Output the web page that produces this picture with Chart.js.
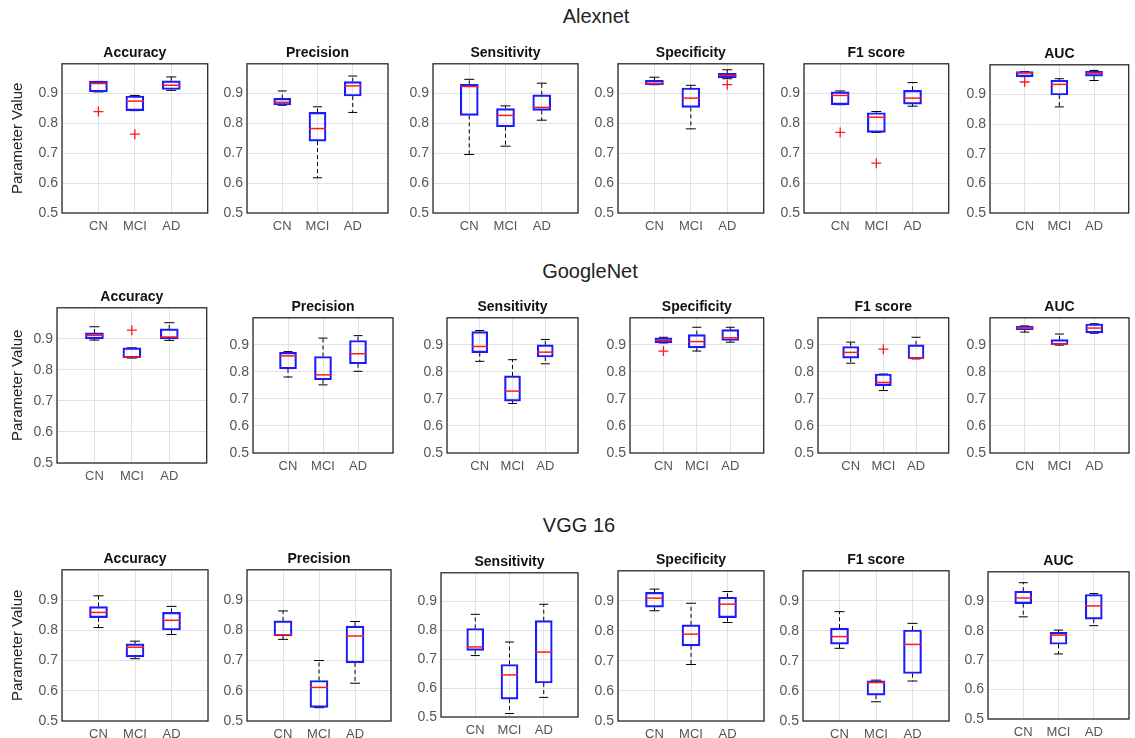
<!DOCTYPE html>
<html>
<head>
<meta charset="utf-8">
<script src="https://cdn.jsdelivr.net/npm/chart.js@4.4.1/dist/chart.umd.min.js"></script>
<style>
  html, body { margin: 0; padding: 0; background: #fff; overflow: hidden; }
  body { width: 1135px; height: 738px; position: relative; font-family: "Liberation Sans", Arial, sans-serif; }
  .net { position: absolute; font-size: 20px; color: #222; transform: translate(-50%, -50%); white-space: nowrap; }
  canvas { position: absolute; }
</style>
</head>
<body>
<div class="net" style="left:596px; top:16px">Alexnet</div>
<div class="net" style="left:590px; top:271px">GoogleNet</div>
<div class="net" style="left:579px; top:525px">VGG 16</div>
<script>
// categories
const groups = ['CN', 'MCI', 'AD'];
const metrics = ['Accuracy', 'Precision', 'Sensitivity', 'Specificity', 'F1 score', 'AUC'];
const networks = ['Alexnet', 'GoogleNet', 'VGG 16'];
const yTicks = [0.5, 0.6, 0.7, 0.8, 0.9];

// each metric: [CN, MCI, AD], each as [lower whisker, Q1, median, Q3, upper whisker]
const alexnetBoxes = [
    [[0.906, 0.906, 0.934, 0.941, 0.941], [0.843, 0.843, 0.875, 0.892, 0.894], [0.911, 0.914, 0.928, 0.943, 0.956]],
    [[0.861, 0.862, 0.871, 0.884, 0.909], [0.618, 0.741, 0.783, 0.837, 0.856], [0.837, 0.892, 0.926, 0.940, 0.959]],
    [[0.696, 0.827, 0.924, 0.931, 0.948], [0.724, 0.789, 0.827, 0.850, 0.859], [0.811, 0.844, 0.854, 0.896, 0.935]],
    [[0.930, 0.930, 0.934, 0.945, 0.955], [0.782, 0.854, 0.885, 0.919, 0.928], [0.950, 0.953, 0.961, 0.968, 0.980]],
    [[0.863, 0.863, 0.894, 0.906, 0.909], [0.770, 0.770, 0.821, 0.836, 0.840], [0.858, 0.865, 0.885, 0.911, 0.937]],
    [[0.960, 0.960, 0.973, 0.977, 0.977], [0.858, 0.898, 0.934, 0.948, 0.953], [0.947, 0.962, 0.972, 0.978, 0.981]]
];
const googlenetBoxes = [
    [[0.896, 0.900, 0.911, 0.919, 0.939], [0.838, 0.839, 0.841, 0.871, 0.871], [0.895, 0.900, 0.906, 0.932, 0.952]],
    [[0.781, 0.811, 0.859, 0.872, 0.875], [0.752, 0.771, 0.789, 0.857, 0.925], [0.802, 0.830, 0.867, 0.916, 0.934]],
    [[0.839, 0.871, 0.894, 0.949, 0.953], [0.683, 0.692, 0.729, 0.785, 0.845], [0.830, 0.855, 0.873, 0.900, 0.920]],
    [[0.907, 0.907, 0.916, 0.926, 0.928], [0.877, 0.889, 0.912, 0.938, 0.965], [0.910, 0.916, 0.926, 0.956, 0.965]],
    [[0.832, 0.851, 0.872, 0.894, 0.910], [0.731, 0.749, 0.761, 0.792, 0.792], [0.848, 0.848, 0.851, 0.900, 0.928]],
    [[0.947, 0.956, 0.963, 0.968, 0.970], [0.899, 0.900, 0.903, 0.919, 0.940], [0.943, 0.944, 0.962, 0.977, 0.978]]
];
const vgg16Boxes = [
    [[0.809, 0.842, 0.859, 0.878, 0.914], [0.706, 0.712, 0.744, 0.755, 0.764], [0.786, 0.801, 0.833, 0.859, 0.879]],
    [[0.770, 0.781, 0.785, 0.831, 0.864], [0.544, 0.545, 0.611, 0.634, 0.700], [0.625, 0.692, 0.781, 0.814, 0.829]],
    [[0.713, 0.731, 0.743, 0.807, 0.856], [0.512, 0.562, 0.646, 0.682, 0.760], [0.568, 0.618, 0.725, 0.834, 0.891]],
    [[0.867, 0.879, 0.909, 0.928, 0.939], [0.688, 0.750, 0.789, 0.820, 0.892], [0.828, 0.844, 0.889, 0.912, 0.931]],
    [[0.742, 0.756, 0.781, 0.809, 0.864], [0.564, 0.586, 0.628, 0.634, 0.636], [0.633, 0.658, 0.755, 0.803, 0.825]],
    [[0.847, 0.892, 0.911, 0.934, 0.963], [0.721, 0.754, 0.785, 0.794, 0.802], [0.817, 0.839, 0.884, 0.923, 0.926]]
];

// outliers per metric: [group, value]
const alexnetOutliers = [[['CN', 0.840], ['MCI', 0.764]], [], [], [['AD', 0.930]], [['CN', 0.770], ['MCI', 0.667]], [['CN', 0.942]]];
const googlenetOutliers = [[['MCI', 0.928]], [], [], [['CN', 0.877]], [['MCI', 0.884]], []];
const vgg16Outliers = [[], [], [], [], [], []];

const allBoxes = [alexnetBoxes, googlenetBoxes, vgg16Boxes];
const allOutliers = [alexnetOutliers, googlenetOutliers, vgg16Outliers];

// plot area frames on the page: [left, right, top, bottom]
const frames = [
    [[62, 212, 64, 213], [247, 392, 64, 213], [433, 582, 64, 213], [618, 768, 64, 213], [804, 953, 64, 213], [990, 1133, 65, 213]],
    [[57, 211, 308, 463], [253, 397, 318, 453], [447, 582, 318, 453], [630, 768, 318, 453], [818, 953, 318, 453], [990, 1133, 318, 453]],
    [[62, 212, 570, 721], [247, 395, 570, 721], [441, 582, 573, 717], [618, 768, 571, 721], [803, 953, 571, 721], [988, 1133, 572, 719]]
];

const TITLE_H = 14 * 1.2 + 2;
const XAXIS_H = 26;
const YAXIS_W = 40;

// whiskers, caps, medians and frame drawn through the chart scales
const boxWhiskers = {
    id: 'boxWhiskers',
    beforeDatasetsDraw(chart, args, opts) {
        const ctx = chart.ctx, x = chart.scales.x, y = chart.scales.y;
        ctx.save();
        ctx.strokeStyle = '#000';
        ctx.lineWidth = 1;
        opts.stats.forEach((s, i) => {
            const px = x.getPixelForValue(i + 1);
            ctx.setLineDash([4, 3]);
            ctx.beginPath();
            ctx.moveTo(px, y.getPixelForValue(s[3]));
            ctx.lineTo(px, y.getPixelForValue(s[4]));
            ctx.moveTo(px, y.getPixelForValue(s[1]));
            ctx.lineTo(px, y.getPixelForValue(s[0]));
            ctx.stroke();
            ctx.setLineDash([]);
            ctx.beginPath();
            [s[0], s[4]].forEach(v => {
                const py = y.getPixelForValue(v);
                ctx.moveTo(px - opts.cap / 2, py);
                ctx.lineTo(px + opts.cap / 2, py);
            });
            ctx.stroke();
        });
        ctx.restore();
    },
    afterDatasetsDraw(chart, args, opts) {
        const ctx = chart.ctx, x = chart.scales.x, y = chart.scales.y;
        ctx.save();
        ctx.strokeStyle = '#ff1a1a';
        ctx.lineWidth = 1.5;
        opts.stats.forEach((s, i) => {
            const px = x.getPixelForValue(i + 1);
            const py = y.getPixelForValue(s[2]);
            ctx.beginPath();
            ctx.moveTo(px - opts.box / 2, py);
            ctx.lineTo(px + opts.box / 2, py);
            ctx.stroke();
        });
        const a = chart.chartArea;
        ctx.strokeStyle = '#2b2b2b';
        ctx.lineWidth = 1.3;
        ctx.strokeRect(a.left, a.top, a.right - a.left, a.bottom - a.top);
        ctx.restore();
    }
};

function makePanel(row, col) {
    const [left, right, top, bottom] = frames[row][col];
    const stats = allBoxes[row][col];
    const outliers = allOutliers[row][col];
    const yW = col === 0 ? left : YAXIS_W;
    const plotW = right - left;
    const boxW = Math.round(plotW * 0.12);

    const canvas = document.createElement('canvas');
    canvas.width = yW + plotW + 2;
    canvas.height = Math.round(TITLE_H + (bottom - top) + XAXIS_H);
    canvas.style.left = (left - yW) + 'px';
    canvas.style.top = Math.round(top - TITLE_H) + 'px';
    document.body.appendChild(canvas);

    new Chart(canvas, {
        type: 'bar',
        data: {
            labels: [''].concat(groups, ['']),
            datasets: [
                {
                    type: 'bar',
                    data: [null].concat(stats.map(s => [s[1], s[3]]), [null]),
                    backgroundColor: 'rgba(0,0,0,0)',
                    borderColor: '#1a1aff',
                    borderWidth: 1.5,
                    borderSkipped: false,
                    barThickness: boxW
                },
                {
                    type: 'scatter',
                    data: outliers.map(o => ({ x: o[0], y: o[1] })),
                    pointStyle: 'cross',
                    radius: 5,
                    borderColor: '#ff1a1a',
                    backgroundColor: '#ff1a1a',
                    borderWidth: 1.3
                }
            ]
        },
        options: {
            responsive: false,
            animation: false,
            events: [],
            layout: { padding: { top: 0, left: 0, right: 2, bottom: 0 } },
            plugins: {
                legend: { display: false },
                tooltip: { enabled: false },
                title: {
                    display: true,
                    fullSize: false,
                    text: metrics[col],
                    color: '#111',
                    font: { family: '"Liberation Sans", Arial, sans-serif', size: 14, weight: 'bold' },
                    padding: { top: 0, bottom: 2 }
                },
                boxWhiskers: { stats: stats, cap: Math.round(boxW * 0.55), box: boxW }
            },
            scales: {
                x: {
                    type: 'category',
                    offset: false,
                    grid: { offset: false, color: '#e2e2e2', drawTicks: false },
                    border: { display: false },
                    ticks: {
                        color: '#555',
                        padding: 6,
                        autoSkip: false,
                        maxRotation: 0,
                        font: { family: '"Liberation Sans", Arial, sans-serif', size: 13 }
                    },
                    afterFit(scale) { scale.height = XAXIS_H; }
                },
                y: {
                    type: 'linear',
                    min: 0.5,
                    max: 1.0,
                    afterBuildTicks(scale) {
                        scale.ticks = yTicks.concat([1.0]).map(v => ({ value: v }));
                    },
                    grid: { color: '#e2e2e2', drawTicks: false },
                    border: { display: false },
                    ticks: {
                        color: '#555',
                        padding: 4,
                        font: { family: '"Liberation Sans", Arial, sans-serif', size: 14 },
                        callback: v => (v > 0.95 ? '' : v.toFixed(1))
                    },
                    title: {
                        display: col === 0,
                        text: 'Parameter Value',
                        color: '#222',
                        font: { family: '"Liberation Sans", Arial, sans-serif', size: 15 },
                        padding: { top: 9, bottom: 0 }
                    },
                    afterFit(scale) { scale.width = yW; }
                }
            }
        },
        plugins: [boxWhiskers]
    });
}

networks.forEach((net, row) => {
    metrics.forEach((m, col) => makePanel(row, col));
});
</script>
</body>
</html>
